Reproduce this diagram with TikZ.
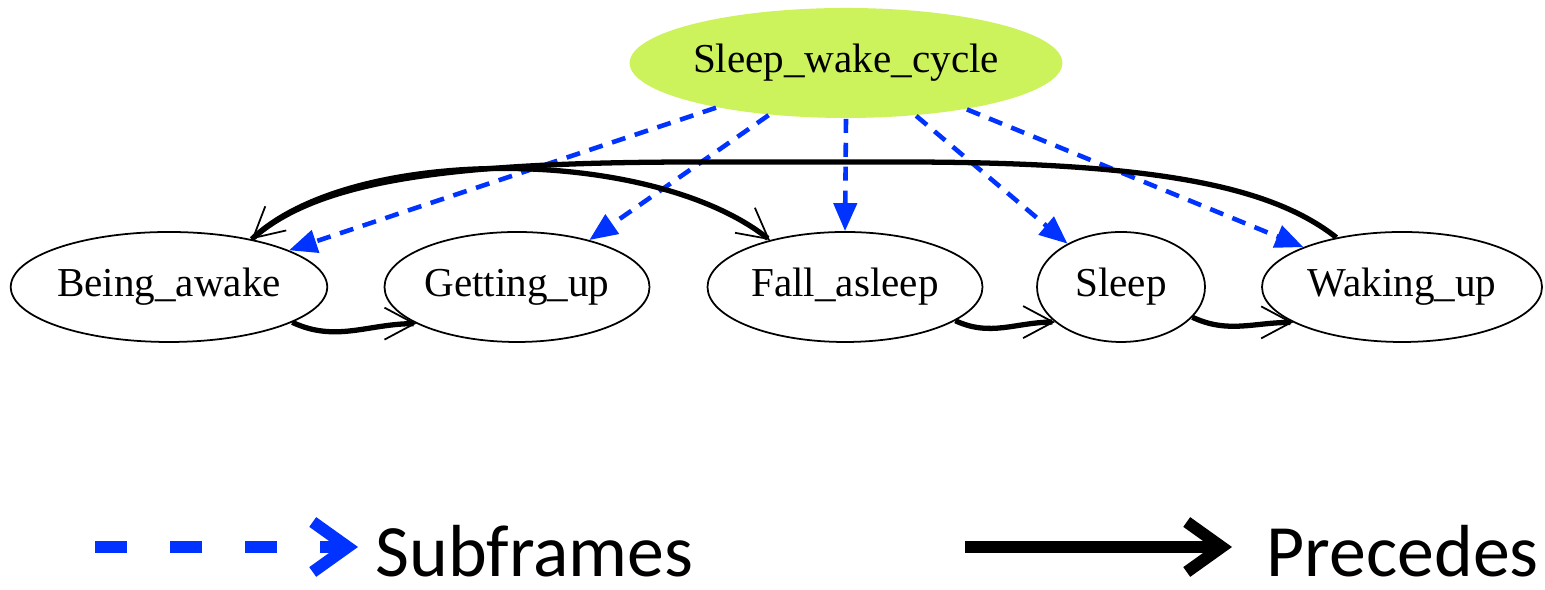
\documentclass[tikz,border=0pt]{standalone}
\usepackage{fontspec}
\setmainfont{Liberation Serif}
\newfontfamily\legendfont{Carlito}
\usetikzlibrary{arrows.meta,shapes.geometric}
\definecolor{framegreen}{RGB}{204,242,92}
\definecolor{subblue}{RGB}{0,51,255}
\tikzset{
	frame/.style={ellipse, draw, line width=0.5pt, inner sep=0pt, minimum height=1.1cm, font=\fontsize{11.7}{14}\selectfont},
	subframe/.style={draw=subblue, line width=1.3pt, dash pattern=on 4pt off 2.8pt, -{Triangle[length=2.8mm,width=2.3mm]}},
	precedes/.style={draw, line width=1.5pt, -{Straight Barb[length=3mm,width=3.2mm,line width=0.5pt]}},
	legendtext/.style={anchor=base west, inner sep=0pt, font=\legendfont\fontsize{21}{25}\selectfont}
}

\begin{document}
\begin{tikzpicture}
			%%%%% START %%%%%
			\useasboundingbox (0, 0) rectangle (15.45, 5.9);
			
			\node[frame, draw=none, fill=framegreen, minimum width=3.93cm] (swc) at (8.46, 5.27) {Sleep\_wake\_cycle};
			
			\node[frame, minimum width=3.12cm] (beingawake) at (1.69, 3.03) {Being\_awake};
			\node[frame, minimum width=2.65cm] (gettingup) at (5.17, 3.03) {Getting\_up};
			\node[frame, minimum width=2.75cm] (fallasleep) at (8.45, 3.03) {Fall\_asleep};
			\node[frame, minimum width=1.68cm] (sleep) at (11.21, 3.03) {Sleep};
			\node[frame, minimum width=2.80cm] (wakingup) at (14.02, 3.03) {Waking\_up};
			
			\draw[subframe] (swc.199) -- (beingawake.17);
			\draw[subframe] (swc.214) -- (gettingup.33);
			\draw[subframe] (swc.south) -- (fallasleep.north);
			\draw[subframe] (swc.323) -- (sleep.141);
			\draw[subframe] (swc.339) -- (wakingup.158);
			
			\draw[precedes] (wakingup.143) .. controls (12.7, 4.05) and (11.5, 4.28) .. (9.0, 4.28) -- (7.0, 4.28) .. controls (4.5, 4.28) and (3.2, 4.1) .. (beingawake.30);
			\draw[precedes] (beingawake.30) .. controls (3.5, 4.45) and (6.5, 4.45) .. (fallasleep.148);
			\draw[precedes] (beingawake.344) to[out=-25, in=180] (gettingup.200);
			\draw[precedes] (fallasleep.343) to[out=-25, in=180] (sleep.208);
			\draw[precedes] (sleep.337) to[out=-25, in=180] (wakingup.198);
			
			% legend
			\coordinate (subA) at (0.95, 0.43);
			\coordinate (subB) at (3.58, 0.43);
			\node[legendtext] (subtxt) at (3.75, 0.13) {Subframes};
			\draw[subblue, line width=3.4pt, dash pattern=on 0.32cm off 0.43cm, -{Straight Barb[length=3.5mm,width=5mm]}] (subA) -- (subB);
			
			\coordinate (preA) at (9.65, 0.43);
			\coordinate (preB) at (12.32, 0.43);
			\node[legendtext] (pretxt) at (12.66, 0.13) {Precedes};
			\draw[line width=3.4pt, -{Straight Barb[length=3.5mm,width=5mm]}] (preA) -- (preB);
			%%%%% END %%%%%
\end{tikzpicture}
\end{document}
